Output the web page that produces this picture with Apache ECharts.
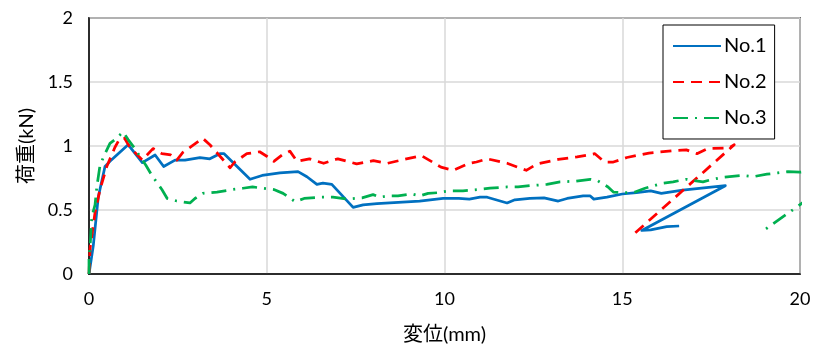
<!DOCTYPE html>
<html>
<head>
<meta charset="utf-8">
<script src="https://cdn.jsdelivr.net/npm/echarts@6/dist/echarts.min.js"></script>
<style>
  html, body { margin: 0; padding: 0; background: #fff; }
  #chart { width: 814px; height: 350px; }
</style>
</head>
<body>
<div id="chart"></div>
<script>
// Load–displacement curves for three specimens: [displacement (mm), load (kN)]
const seriesNames = ['No.1', 'No.2', 'No.3'];

const no1 = [
  [0, 0], [0.12, 0.22], [0.26, 0.6], [0.45, 0.84], [0.59, 0.88], [1.1, 1.01],
  [1.5, 0.87], [1.86, 0.93], [2.1, 0.84], [2.42, 0.89], [2.7, 0.89], [3.12, 0.91],
  [3.4, 0.9], [3.68, 0.94], [3.8, 0.94], [4.53, 0.74], [4.87, 0.77], [5.37, 0.79],
  [5.88, 0.8], [6.13, 0.76], [6.41, 0.7], [6.58, 0.71], [6.83, 0.7], [7.43, 0.52],
  [7.71, 0.54], [8.1, 0.55], [9.3, 0.57], [9.96, 0.59], [10.4, 0.59], [10.7, 0.585],
  [11.0, 0.6], [11.2, 0.6], [11.76, 0.555], [11.98, 0.58], [12.4, 0.59], [12.8, 0.595],
  [13.2, 0.57], [13.45, 0.59], [13.9, 0.61], [14.1, 0.61], [14.2, 0.585], [14.57, 0.6],
  [15.0, 0.625], [15.4, 0.635], [15.8, 0.65], [16.1, 0.63], [16.7, 0.655], [17.9, 0.69],
  [15.55, 0.34], [15.8, 0.345], [16.25, 0.37], [16.6, 0.375]
];

const no2 = [
  [0, 0], [0.03, 0.2], [0.17, 0.48], [0.31, 0.66], [0.5, 0.84], [0.73, 0.99],
  [0.87, 1.06], [1.0, 1.06], [1.15, 0.99], [1.5, 0.89], [1.8, 0.98], [2.05, 0.94],
  [2.3, 0.93], [2.47, 0.89], [2.64, 0.95], [3.2, 1.06], [3.4, 1.01], [3.97, 0.83],
  [4.1, 0.875], [4.44, 0.94], [4.8, 0.955], [5.0, 0.92], [5.2, 0.88], [5.43, 0.93],
  [5.65, 0.96], [5.85, 0.88], [6.2, 0.9], [6.6, 0.865], [7.0, 0.9], [7.53, 0.86],
  [8.0, 0.885], [8.4, 0.865], [8.86, 0.895], [9.35, 0.925], [9.9, 0.835], [10.25, 0.81],
  [10.7, 0.865], [10.9, 0.875], [11.2, 0.9], [11.76, 0.865], [12.3, 0.81], [12.6, 0.86],
  [13.2, 0.895], [13.73, 0.915], [14.23, 0.94], [14.5, 0.875], [14.75, 0.875], [15.13, 0.91],
  [15.75, 0.945], [16.5, 0.965], [16.8, 0.97], [17.1, 0.94], [17.4, 0.98], [18.0, 0.985],
  [18.15, 1.01], [15.36, 0.32]
];

const no3 = [
  [0, 0], [0.0, 0.13], [0.03, 0.21], [0.08, 0.45], [0.17, 0.54], [0.22, 0.68],
  [0.31, 0.85], [0.45, 0.94], [0.59, 1.02], [0.73, 1.05], [0.96, 1.11], [1.1, 1.05],
  [1.29, 0.98], [1.43, 0.92], [1.6, 0.85], [1.77, 0.77], [2.05, 0.66], [2.2, 0.59],
  [2.47, 0.57], [2.84, 0.555], [2.98, 0.59], [3.2, 0.63], [3.6, 0.64], [4.05, 0.66],
  [4.33, 0.67], [4.6, 0.68], [5.2, 0.66], [5.46, 0.63], [5.8, 0.565], [6.05, 0.59],
  [6.5, 0.6], [6.86, 0.6], [7.26, 0.585], [7.68, 0.595], [7.99, 0.62], [8.19, 0.6],
  [8.41, 0.61], [8.69, 0.61], [9.08, 0.625], [9.3, 0.61], [9.54, 0.63], [9.8, 0.635],
  [10.15, 0.65], [10.52, 0.65], [10.94, 0.66], [11.28, 0.67], [11.76, 0.68], [12.07, 0.68],
  [12.4, 0.69], [12.88, 0.7], [13.25, 0.72], [13.67, 0.725], [14.1, 0.74], [14.3, 0.73],
  [14.6, 0.68], [14.75, 0.64], [15.08, 0.635], [15.36, 0.64], [15.64, 0.67], [16.15, 0.71],
  [16.43, 0.72], [16.8, 0.74], [17.27, 0.72], [17.55, 0.74], [17.83, 0.755], [18.37, 0.77],
  [18.68, 0.76], [19.07, 0.78], [19.38, 0.79], [19.66, 0.8], [20.0, 0.795], [20.5, 0.81],
  [20.5, 0.64], [18.93, 0.33]
];

const xTicks = { min: 0, max: 20, interval: 5 };
const yTicks = { min: 0, max: 2, interval: 0.5 };

const FONT = "Lato, 'Noto Sans CJK JP', sans-serif";

const chart = echarts.init(document.getElementById('chart'), null, { renderer: 'canvas' });

const lineSeries = (name, data, color, type, width) => ({
  name,
  type: 'line',
  data,
  symbol: 'none',
  smooth: false,
  clip: true,
  animation: false,
  lineStyle: { color, width, type, cap: 'butt', join: 'round' },
  itemStyle: { color }
});

chart.setOption({
  backgroundColor: '#fff',
  animation: false,
  grid: {
    left: 89, right: 14, top: 18, bottom: 76,
    show: true, borderColor: '#000', borderWidth: 1.5, backgroundColor: 'transparent'
  },
  legend: {
    orient: 'vertical',
    left: 663, top: 25,
    width: 111,
    padding: [11, 8, 11, 9],
    itemGap: 16,
    itemWidth: 48, itemHeight: 20,
    backgroundColor: '#fff',
    borderColor: '#000', borderWidth: 1,
    itemStyle: { opacity: 0 },
    textStyle: { fontFamily: FONT, fontSize: 20, color: '#000', padding: [0, 0, 0, -2] },
    data: seriesNames
  },
  xAxis: {
    type: 'value',
    min: xTicks.min, max: xTicks.max, interval: xTicks.interval,
    name: '変位(mm)',
    nameLocation: 'middle',
    nameGap: 51,
    nameTextStyle: { fontFamily: FONT, fontSize: 20, color: '#000' },
    axisLine: { show: true, lineStyle: { color: '#000', width: 1.5 } },
    axisTick: { show: false },
    axisLabel: { fontFamily: FONT, fontSize: 18, color: '#000', margin: 16 },
    splitLine: { show: true, lineStyle: { color: '#d9d9d9', width: 1.5 } }
  },
  yAxis: {
    type: 'value',
    min: yTicks.min, max: yTicks.max, interval: yTicks.interval,
    name: '荷重(kN)',
    nameLocation: 'middle',
    nameGap: 52,
    nameTextStyle: { fontFamily: FONT, fontSize: 20, color: '#000' },
    axisLine: { show: true, lineStyle: { color: '#000', width: 1.5 } },
    axisTick: { show: false },
    axisLabel: { fontFamily: FONT, fontSize: 18, color: '#000', margin: 16 },
    splitLine: { show: true, lineStyle: { color: '#d9d9d9', width: 1.5 } }
  },
  series: [
    lineSeries(seriesNames[0], no1, '#0070C0', 'solid', 2.75),
    lineSeries(seriesNames[1], no2, '#FF0000', [11, 7], 2.75),
    lineSeries(seriesNames[2], no3, '#00B050', [15, 7, 2, 7], 2.75)
  ]
});
</script>
</body>
</html>
